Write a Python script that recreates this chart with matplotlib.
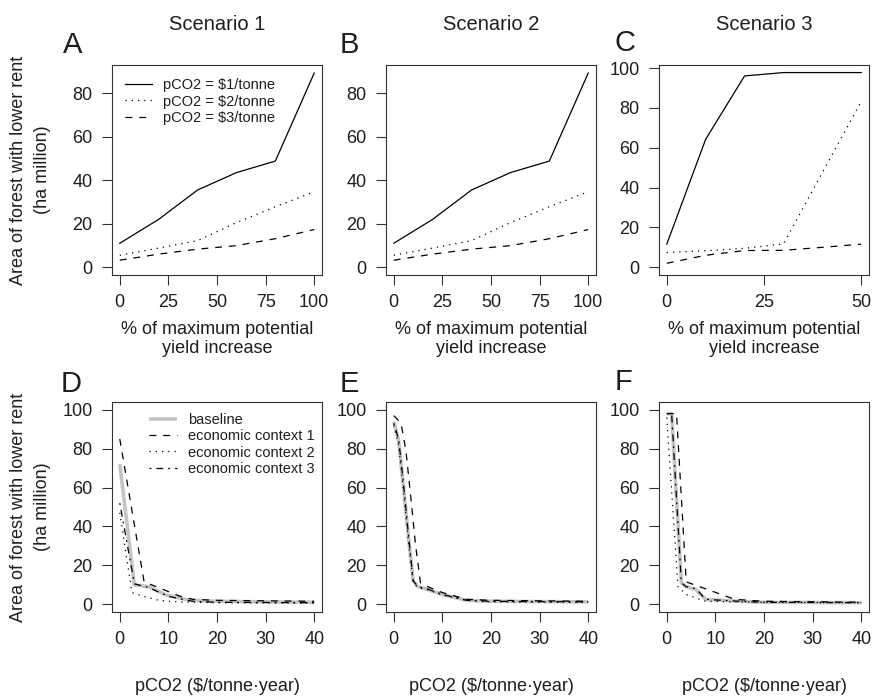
import matplotlib
matplotlib.use('Agg')
import matplotlib.pyplot as plt

plt.rcParams['font.family'] = ['Liberation Sans', 'DejaVu Sans']
TXT = '#1e1e1e'

#%% data
# top row: forest area vs % of maximum potential yield increase
yield_x_12 = [0, 20, 40, 60, 80, 100]
s1_p1 = [11, 22, 35.5, 43.5, 48.8, 89.3]
s1_p2 = [5.5, 8.8, 12.2, 20.5, 27.8, 34.7]
s1_p3 = [3.2, 6.0, 8.3, 9.9, 13.1, 17.3]
s2_p1 = [11, 22, 35.5, 43.5, 48.8, 89.3]
s2_p2 = [5.5, 8.8, 12.2, 20.5, 27.8, 34.7]
s2_p3 = [3.2, 6.0, 8.3, 9.9, 13.1, 17.3]
yield_x_3 = [0, 10, 20, 30, 40, 50]
s3_p1 = [11.6, 64.3, 96.1, 97.8, 97.8, 97.8]
s3_p2 = [7.4, 8.3, 9.5, 11.7, 47.5, 83.3]
s3_p3 = [2.0, 6.0, 8.4, 8.5, 10.0, 11.6]
price_labels = ['pCO2 = $1/tonne', 'pCO2 = $2/tonne', 'pCO2 = $3/tonne']

# bottom row: forest area vs carbon price
d_base_x = [0, 3, 6, 9.5, 14, 20, 30, 40]
d_base_y = [72, 10, 9, 4.8, 2.2, 1.5, 1.2, 1.0]
d_ec1_x = [0, 5, 7.5, 12.5, 15, 20, 40]
d_ec1_y = [85, 11.5, 9, 4, 2.5, 2, 1.5]
d_ec2_x = [0, 2.5, 5, 8, 12, 20, 40]
d_ec2_y = [47, 6, 4, 2, 1.2, 0.8, 0.6]
d_ec3_x = [0, 3, 6, 10, 15, 20, 40]
d_ec3_y = [52, 10.5, 8.5, 4, 1.5, 1, 0.8]

e_base_x = [0, 1, 2, 3, 4, 5, 7, 10, 15, 20, 40]
e_base_y = [94, 84, 60, 35, 12, 9, 7.5, 5, 2, 1.5, 1.2]
e_ec1_x = [0, 1.5, 2.5, 3.5, 4.5, 5.5, 7, 10, 15, 20, 40]
e_ec1_y = [97, 93, 79, 55, 30, 11, 9, 6, 2.5, 2, 1.5]
e_ec2_x = [0, 1, 2, 3, 4, 5, 7, 10, 15, 20, 40]
e_ec2_y = [92, 82, 58, 33, 11, 8.5, 7.5, 4.8, 2, 1.2, 1.0]
e_ec3_x = [0, 1, 2, 3, 4, 5, 7, 10, 15, 20, 40]
e_ec3_y = [93, 85, 62, 36, 12, 9, 7.8, 5, 2, 1.5, 1.2]

f_base_x = [0, 1, 3, 4, 6, 8, 15, 20, 40]
f_base_y = [98, 98, 11, 9, 7.5, 2.5, 1.5, 1, 0.8]
f_ec1_x = [0, 2, 4, 14, 20, 40]
f_ec1_y = [98, 98, 11.5, 2.5, 1.5, 1]
f_ec2_x = [0, 2.3, 4, 8, 20, 40]
f_ec2_y = [96, 9, 5, 1.5, 1, 0.8]
f_ec3_x = [0, 1, 3, 4, 6, 8, 15, 20, 40]
f_ec3_y = [98, 98, 11, 9, 8, 2.5, 1.5, 1, 0.8]
context_labels = ['baseline', 'economic context 1', 'economic context 2',
                  'economic context 3']

#%% styles (R-like lty)
LW = 0.9
ST_SOLID = '-'
ST_DOT = (0, (1, 4))
ST_DASH = (0, (5.5, 5.5))
ST_DASHDOT = (0, (1.5, 4, 5.5, 4))
FS = 13


def r_axes(ax, xlim, ylim, xticks, yticks):
    """Make the axes look like base R graphics"""
    ax.set_xlim(xlim)
    ax.set_ylim(ylim)
    ax.set_xticks(xticks)
    ax.set_yticks(yticks)
    for sp in ax.spines.values():
        sp.set_linewidth(0.8)
        sp.set_color('#333333')
    ax.tick_params(direction='out', length=7, width=0.8, pad=7,
                   labelsize=FS, colors='#333333', labelcolor=TXT)


W, H = 875, 696
lefts = [112, 386, 659]
fig = plt.figure(figsize=(W / 100, H / 100), dpi=100)
axs_top = [fig.add_axes([l / W, (H - 275) / H, 210 / W, 210 / H]) for l in lefts]
axs_bot = [fig.add_axes([l / W, (H - 612) / H, 210 / W, 210 / H]) for l in lefts]

# top row
top_data = [(yield_x_12, s1_p1, s1_p2, s1_p3),
            (yield_x_12, s2_p1, s2_p2, s2_p3),
            (yield_x_3, s3_p1, s3_p2, s3_p3)]
for i, (ax, (x, p1, p2, p3)) in enumerate(zip(axs_top, top_data)):
    ax.plot(x, p1, color='black', lw=LW, ls=ST_SOLID, label=price_labels[0])
    ax.plot(x, p2, color='black', lw=LW, ls=ST_DOT, label=price_labels[1])
    ax.plot(x, p3, color='black', lw=LW, ls=ST_DASH, label=price_labels[2])
    if i < 2:
        r_axes(ax, (-4, 104), (-3.6, 93), [0, 25, 50, 75, 100], [0, 20, 40, 60, 80])
    else:
        r_axes(ax, (-2, 52), (-3.9, 101.6), [0, 25, 50], [0, 20, 40, 60, 80, 100])
    ax.text(0.5, -0.305, '% of maximum potential\nyield increase',
            transform=ax.transAxes, ha='center', va='center', fontsize=FS,
            linespacing=1.2, color=TXT)

leg = axs_top[0].legend(loc='upper left', bbox_to_anchor=(0.062, 0.937),
                        frameon=False, fontsize=10.5, handlelength=1.85,
                        handletextpad=0.75, labelspacing=0.16, borderpad=0,
                        borderaxespad=0)
for t in leg.get_texts():
    t.set_color(TXT)

# bottom row
bot_data = [(d_base_x, d_base_y, d_ec1_x, d_ec1_y, d_ec2_x, d_ec2_y, d_ec3_x, d_ec3_y),
            (e_base_x, e_base_y, e_ec1_x, e_ec1_y, e_ec2_x, e_ec2_y, e_ec3_x, e_ec3_y),
            (f_base_x, f_base_y, f_ec1_x, f_ec1_y, f_ec2_x, f_ec2_y, f_ec3_x, f_ec3_y)]
for ax, (bx, by, x1, y1, x2, y2, x3, y3) in zip(axs_bot, bot_data):
    ax.plot(bx, by, color='#c4c4c4', lw=2.6, solid_capstyle='butt',
            label=context_labels[0])
    ax.plot(x1, y1, color='black', lw=LW, ls=ST_DASH, label=context_labels[1])
    ax.plot(x2, y2, color='black', lw=LW, ls=ST_DOT, label=context_labels[2])
    ax.plot(x3, y3, color='black', lw=LW, ls=ST_DASHDOT, label=context_labels[3])
    r_axes(ax, (-1.6, 41.6), (-4, 104), [0, 10, 20, 30, 40], [0, 20, 40, 60, 80, 100])
    ax.text(0.5, -0.357, 'pCO2 ($/tonne\u00b7year)', transform=ax.transAxes,
            ha='center', va='center', fontsize=FS, color=TXT)

leg = axs_bot[0].legend(loc='upper left', bbox_to_anchor=(0.176, 0.948),
                        frameon=False, fontsize=10.5, handlelength=1.9,
                        handletextpad=0.8, labelspacing=0.16, borderpad=0,
                        borderaxespad=0)
for t in leg.get_texts():
    t.set_color(TXT)

# y labels (left column only)
for ax in (axs_top[0], axs_bot[0]):
    ax.text(-0.39, 0.5, 'Area of forest with lower rent\n(ha million)',
            transform=ax.transAxes, rotation=90, ha='center', va='center',
            fontsize=FS, linespacing=1.55, color=TXT)

# scenario titles and panel letters
for cx, name in zip([217, 491, 764], ['Scenario 1', 'Scenario 2', 'Scenario 3']):
    fig.text(cx / W, 1 - 24 / H, name, ha='center', va='center',
             fontsize=14.5, color=TXT)
for (px, py), letter in zip([(63, 45), (340, 45), (615, 43), (61, 384), (340, 384), (615, 382)],
                            'ABCDEF'):
    fig.text(px / W, 1 - py / H, letter, ha='left', va='center',
             fontsize=21, color=TXT)

fig.savefig('out.png', dpi=100)
